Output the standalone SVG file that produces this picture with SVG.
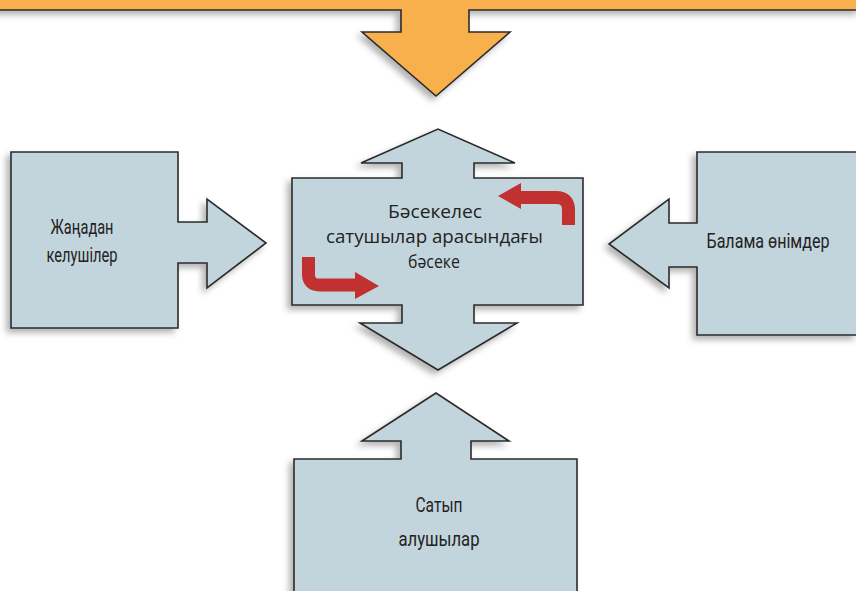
<svg xmlns="http://www.w3.org/2000/svg" width="856" height="591" viewBox="0 0 856 591">
<defs>
<filter id="sh" x="-20%" y="-20%" width="140%" height="140%">
<feDropShadow dx="-4" dy="4" stdDeviation="3" flood-color="#000" flood-opacity="0.3"/>
</filter>
<style>
.box{fill:#c3d5dc;stroke:#2b2b2b;stroke-width:1.6;stroke-linejoin:miter;filter:url(#sh)}
.org{fill:#f8b04e;stroke:#2b2b2b;stroke-width:1.6;filter:url(#sh)}
.lbl{font-family:"Roboto","Liberation Sans",sans-serif;font-size:20.5px;fill:#222;text-anchor:middle}
.ctr{font-family:"Open Sans","Noto Sans","DejaVu Sans",sans-serif;font-size:19px;fill:#222;text-anchor:middle}
.red{fill:none;stroke:#c1312f;stroke-width:13}
.redh{fill:#c1312f}
</style>
</defs>
<rect x="0" y="0" width="856" height="591" fill="#ffffff"/>
<g id="top-force">
<path class="org" d="M-3,-3 H860 V10 H469 V32 H510 L436,96 L362,32 H401 V10 H-3 Z"/>
</g>
<g id="new-entrants">
<path class="box" d="M11,152 H178 V222 H207 V199 L266,243 L207,288 V263 H178 V328 H11 Z"/>
<text class="lbl" x="82" y="234" textLength="63" lengthAdjust="spacingAndGlyphs">Жаңадан</text>
<text class="lbl" x="82" y="262" textLength="71" lengthAdjust="spacingAndGlyphs">келушілер</text>
</g>
<g id="substitutes">
<path class="box" d="M857,152 H697 V223 H669 V199 L609,244 L669,288 V267 H697 V335 H857 Z"/>
<text class="lbl" x="768" y="248" textLength="123" lengthAdjust="spacingAndGlyphs">Балама өнімдер</text>
</g>
<g id="rivalry">
<path class="box" d="M292,178 H402 V163 H361 L438,129 L515,163 H474 V178 H583 V305 H474 V323 H517 L438,370 L360,323 H402 V305 H292 Z"/>
<text class="ctr" x="435" y="218" textLength="94" lengthAdjust="spacingAndGlyphs">Бәсекелес</text>
<text class="ctr" x="434.5" y="243" textLength="217" lengthAdjust="spacingAndGlyphs">сатушылар арасындағы</text>
<text class="ctr" x="434" y="268" textLength="52" lengthAdjust="spacingAndGlyphs">бәсеке</text>
</g>
<g id="buyers">
<path class="box" d="M294,600 V459 H401 V441 H362 L436,393 L509,441 H471 V459 H577 V600"/>
<text class="lbl" x="439" y="512" textLength="47" lengthAdjust="spacingAndGlyphs">Сатып</text>
<text class="lbl" x="439" y="546" textLength="81" lengthAdjust="spacingAndGlyphs">алушылар</text>
</g>
<g id="connectors">
<path class="red" d="M568.5,225 V210 Q568.5,197.5 556,197.5 H518"/>
<polygon class="redh" points="521,183 498,196 521,209"/>
<path class="red" d="M308.5,257 V274 Q308.5,285 319.5,285 H357"/>
<polygon class="redh" points="355,272 379,286 355,299"/>
</g>
</svg>
